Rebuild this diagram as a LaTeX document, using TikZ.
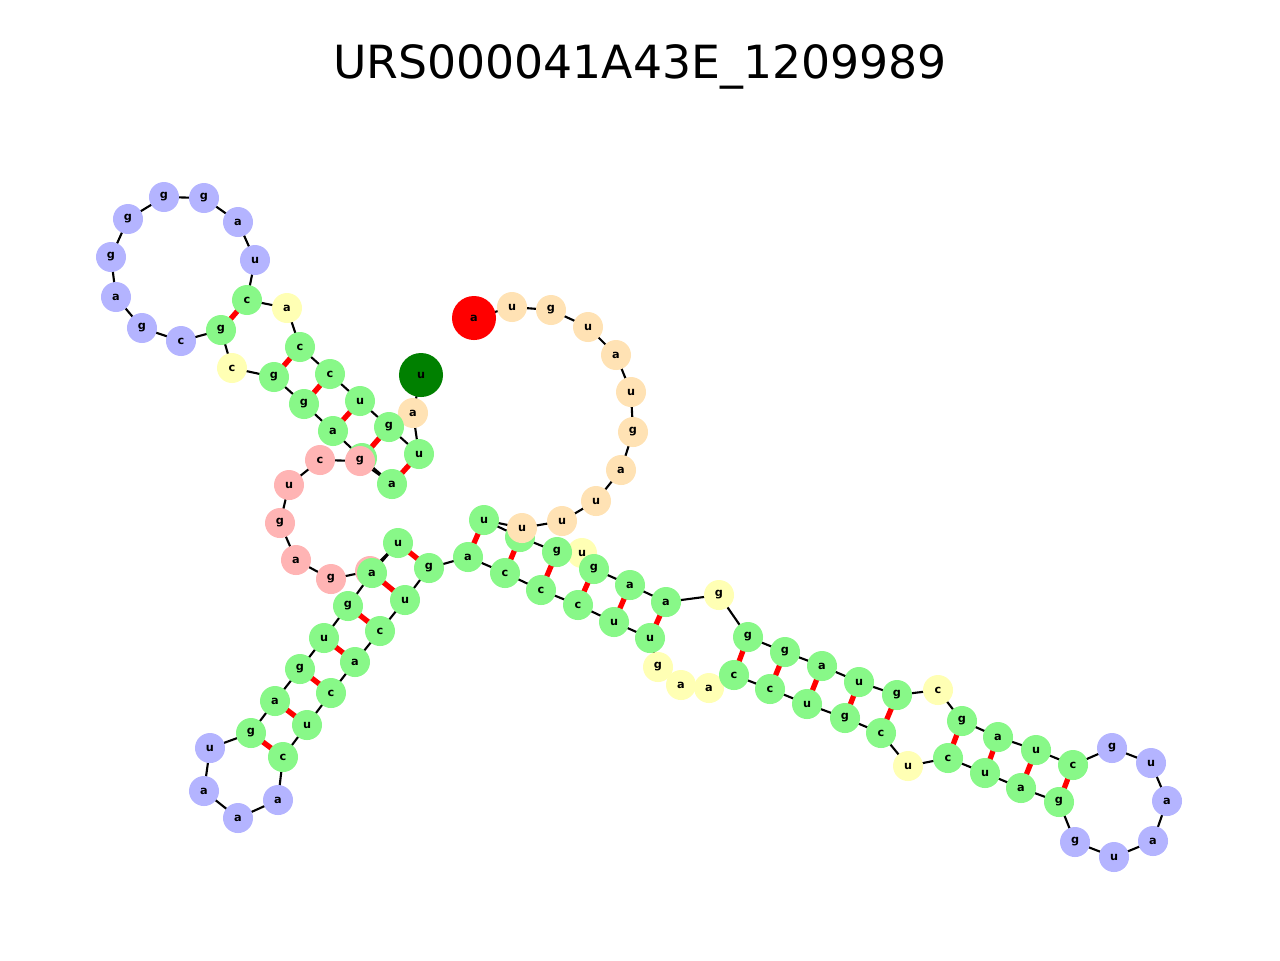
\documentclass[tikz,border=0pt]{standalone}
\usepackage{fontspec}
\setmainfont{DejaVu Sans}
\definecolor{stemgreen}{HTML}{88F888}
\definecolor{loopyellow}{HTML}{FFFFB4}
\definecolor{hairpinblue}{HTML}{B4B4FF}
\definecolor{multipink}{HTML}{FFB4B4}
\definecolor{endorange}{HTML}{FFE2B4}
\definecolor{fivegreen}{HTML}{008000}
\tikzset{
  nt/.style={circle, inner sep=0pt, minimum size=0.3cm, font=\fontsize{3.2pt}{3.2pt}\selectfont\bfseries},
  gr/.style={fill=stemgreen}, ye/.style={fill=loopyellow}, pu/.style={fill=hairpinblue},
  pk/.style={fill=multipink}, or/.style={fill=endorange},
  st/.style={fill=fivegreen, minimum size=0.44cm}, en/.style={fill=red, minimum size=0.44cm},
  bb/.style={draw=black, line width=0.6pt},
  bp/.style={draw=red, line width=1.5pt}
}
\begin{document}
\begin{tikzpicture}[x=0.01cm, y=-0.01cm]
\useasboundingbox (0,0) rectangle (1280,960);
\node (title) at (640,67) {\fontsize{13pt}{13pt}\selectfont URS000041A43E\_1209989};
% nucleotides, 5' to 3'
\foreach \i/\x/\y/\b/\c in {1/421/375/u/st, 2/413/413/a/or, 3/419/454/u/gr, 4/389/427/g/gr,
  5/360/401/u/gr, 6/330/374/c/gr, 7/300/347/c/gr, 8/287/308/a/ye, 9/247/300/c/gr,
  10/255/260/u/pu, 11/238/222/a/pu, 12/204/198/g/pu, 13/164/197/g/pu, 14/128/219/g/pu,
  15/111/257/g/pu, 16/116/297/a/pu, 17/142/328/g/pu, 18/181/341/c/pu, 19/221/330/g/gr,
  20/232/368/c/ye, 21/274/377/g/gr, 22/304/404/g/gr, 23/333/431/a/gr, 24/362/458/u/gr,
  25/392/484/a/gr, 26/360/461/g/pk, 27/320/460/c/pk, 28/289/485/u/pk, 29/280/523/g/pk,
  30/296/560/a/pk, 31/331/579/g/pk, 32/370/571/a/pk, 33/398/543/u/gr, 34/372/573/a/gr,
  35/348/606/g/gr, 36/324/638/u/gr, 37/300/669/g/gr, 38/275/701/a/gr, 39/251/733/g/gr,
  40/210/748/u/pu, 41/204/791/a/pu, 42/238/818/a/pu, 43/278/800/a/pu, 44/283/757/c/gr,
  45/307/725/u/gr, 46/331/693/c/gr, 47/355/662/a/gr, 48/380/631/c/gr, 49/405/600/u/gr,
  50/429/568/g/gr, 51/468/557/a/gr, 52/505/573/c/gr, 53/541/590/c/gr, 54/578/605/c/gr,
  55/614/622/u/gr, 56/650/638/u/gr, 57/658/667/g/ye, 58/681/685/a/ye, 59/709/688/a/ye,
  60/734/675/c/gr, 61/770/689/c/gr, 62/807/704/u/gr, 63/845/718/g/gr, 64/881/733/c/gr,
  65/908/766/u/ye, 66/948/758/c/gr, 67/985/773/u/gr, 68/1021/788/a/gr, 69/1059/802/g/gr,
  70/1075/842/g/pu, 71/1114/857/u/pu, 72/1153/841/a/pu, 73/1167/801/a/pu, 74/1151/763/u/pu,
  75/1112/748/g/pu, 76/1073/765/c/gr, 77/1036/750/u/gr, 78/998/737/a/gr, 79/962/721/g/gr,
  80/938/690/c/ye, 81/897/695/g/gr, 82/859/682/u/gr, 83/822/666/a/gr, 84/785/652/g/gr,
  85/748/637/g/gr, 86/719/595/g/ye, 87/666/602/a/gr, 88/630/585/a/gr, 89/594/569/g/gr,
  90/582/553/u/ye, 91/557/552/g/gr, 92/520/537/g/gr, 93/484/520/u/gr, 94/522/528/u/or,
  95/562/521/u/or, 96/596/501/u/or, 97/621/470/a/or, 98/633/432/g/or, 99/631/392/u/or,
  100/616/355/a/or, 101/588/327/u/or, 102/551/310/g/or, 103/512/307/u/or, 104/474/318/a/en}
  \coordinate (p\i) at (\x,\y);
% backbone
\foreach \i [evaluate=\i as \j using int(\i+1)] in {1,...,103}
  \draw[bb] (p\i) -- (p\j);
% base pairs
\foreach \i/\j in {9/19, 7/21, 6/22, 5/23, 4/24, 3/25, 34/49, 35/48, 36/47, 37/46, 38/45,
  39/44, 33/50, 51/93, 52/92, 53/91, 54/89, 55/88, 56/87, 60/85, 61/84, 62/83, 63/82,
  64/81, 66/79, 67/78, 68/77, 69/76}
  \draw[bp] (p\i) -- (p\j);
\foreach \i/\x/\y/\b/\c in {1/421/375/u/st, 2/413/413/a/or, 3/419/454/u/gr, 4/389/427/g/gr,
  5/360/401/u/gr, 6/330/374/c/gr, 7/300/347/c/gr, 8/287/308/a/ye, 9/247/300/c/gr,
  10/255/260/u/pu, 11/238/222/a/pu, 12/204/198/g/pu, 13/164/197/g/pu, 14/128/219/g/pu,
  15/111/257/g/pu, 16/116/297/a/pu, 17/142/328/g/pu, 18/181/341/c/pu, 19/221/330/g/gr,
  20/232/368/c/ye, 21/274/377/g/gr, 22/304/404/g/gr, 23/333/431/a/gr, 24/362/458/u/gr,
  25/392/484/a/gr, 26/360/461/g/pk, 27/320/460/c/pk, 28/289/485/u/pk, 29/280/523/g/pk,
  30/296/560/a/pk, 31/331/579/g/pk, 32/370/571/a/pk, 33/398/543/u/gr, 34/372/573/a/gr,
  35/348/606/g/gr, 36/324/638/u/gr, 37/300/669/g/gr, 38/275/701/a/gr, 39/251/733/g/gr,
  40/210/748/u/pu, 41/204/791/a/pu, 42/238/818/a/pu, 43/278/800/a/pu, 44/283/757/c/gr,
  45/307/725/u/gr, 46/331/693/c/gr, 47/355/662/a/gr, 48/380/631/c/gr, 49/405/600/u/gr,
  50/429/568/g/gr, 51/468/557/a/gr, 52/505/573/c/gr, 53/541/590/c/gr, 54/578/605/c/gr,
  55/614/622/u/gr, 56/650/638/u/gr, 57/658/667/g/ye, 58/681/685/a/ye, 59/709/688/a/ye,
  60/734/675/c/gr, 61/770/689/c/gr, 62/807/704/u/gr, 63/845/718/g/gr, 64/881/733/c/gr,
  65/908/766/u/ye, 66/948/758/c/gr, 67/985/773/u/gr, 68/1021/788/a/gr, 69/1059/802/g/gr,
  70/1075/842/g/pu, 71/1114/857/u/pu, 72/1153/841/a/pu, 73/1167/801/a/pu, 74/1151/763/u/pu,
  75/1112/748/g/pu, 76/1073/765/c/gr, 77/1036/750/u/gr, 78/998/737/a/gr, 79/962/721/g/gr,
  80/938/690/c/ye, 81/897/695/g/gr, 82/859/682/u/gr, 83/822/666/a/gr, 84/785/652/g/gr,
  85/748/637/g/gr, 86/719/595/g/ye, 87/666/602/a/gr, 88/630/585/a/gr, 90/582/553/u/ye,
  89/594/569/g/gr, 91/557/552/g/gr, 92/520/537/g/gr, 93/484/520/u/gr, 94/522/528/u/or,
  95/562/521/u/or, 96/596/501/u/or, 97/621/470/a/or, 98/633/432/g/or, 99/631/392/u/or,
  100/616/355/a/or, 101/588/327/u/or, 102/551/310/g/or, 103/512/307/u/or, 104/474/318/a/en}
  \node[nt, \c] (n\i) at (p\i) {\b};
\end{tikzpicture}
\end{document}
